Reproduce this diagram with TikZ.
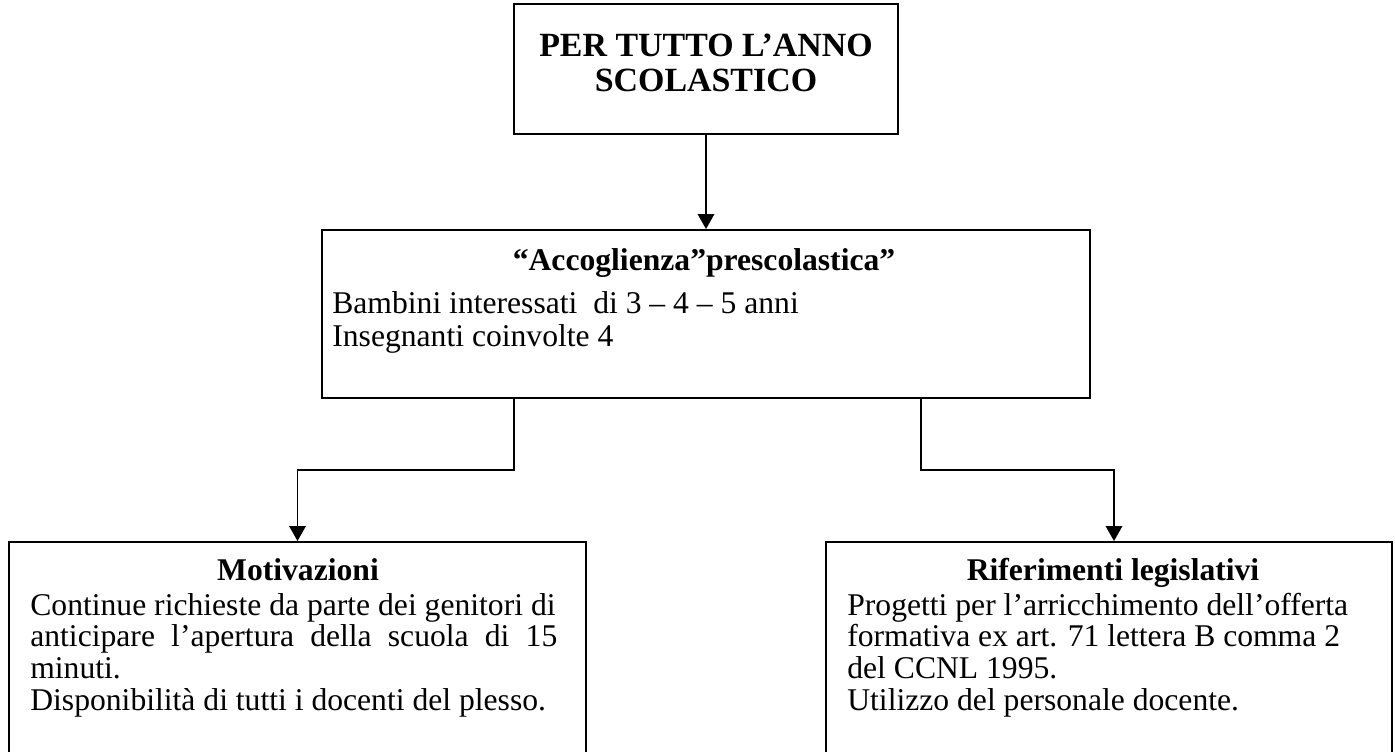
\documentclass[tikz,border=0pt]{standalone}
\usepackage{fontspec}
\setmainfont{Liberation Serif}
\usetikzlibrary{arrows.meta,fit}

\tikzset{
  box/.style={draw, line width=1.1pt, inner sep=0pt},
  arr/.style={line width=1pt, -{Triangle[width=3.3mm,length=3mm]}},
  txt/.style={inner sep=0pt, font=\fontsize{18}{18}\selectfont},
  hd/.style={inner sep=0pt, font=\fontsize{18}{18}\selectfont\bfseries},
}

\begin{document}
\begin{tikzpicture}[x=0.02cm, y=-0.02cm]
  \useasboundingbox (0,0) rectangle (1395,751);
  % boxes
  \node[box, fit={(514,4) (898,134)}] (top) {};
  \node[box, fit={(322,230) (1090,398)}] (mid) {};
  \node[box, fit={(9,542) (586,790)}] (left) {};
  \node[box, fit={(826,542) (1392,790)}] (right) {};
  % top box
  \foreach \ln [count=\i] in {PER TUTTO L’ANNO, SCOLASTICO}
    \node[hd, anchor=base, font=\fontsize{19.3}{20}\selectfont\bfseries] (tt\i) at (706, {56+35*(\i-1)}) {\ln};
  % middle box
  \node[hd, anchor=base] (midtitle) at (704,270) {“Accoglienza”prescolastica”};
  \foreach \ln [count=\i] in {Bambini interessati\ \ di 3 – 4 – 5 anni, Insegnanti coinvolte 4}
    \node[txt, anchor=base west] (mb\i) at (332, {313+33*(\i-1)}) {\ln};
  % bottom boxes
  \node[hd, anchor=base] (lefttitle) at (298,580) {Motivazioni};
  \foreach \ln [count=\i] in {Continue richieste da parte dei genitori di,
      {\makebox[10.54cm][s]{anticipare l’apertura della scuola di 15}},
      minuti., Disponibilità di tutti i docenti del plesso.}
    \node[txt, anchor=base west] (lb\i) at (30, {615+31.7*(\i-1)}) {\ln};
  \node[hd, anchor=base] (righttitle) at (1113,580) {Riferimenti legislativi};
  \foreach \ln [count=\i] in {Progetti per l’arricchimento dell’offerta,
      formativa ex art. 71 lettera B comma 2, del CCNL 1995.,
      Utilizzo del personale docente.}
    \node[txt, anchor=base west] (rb\i) at (847, {615+31.7*(\i-1)}) {\ln};
  % connectors
  \coordinate (jl) at (514,470);
  \coordinate (jr) at (921,470);
  \draw[arr] (top.south) -- (mid.north);
  \draw[arr] (mid.south -| jl) -- (jl) -| (left.north);
  \draw[arr] (mid.south -| jr) -- (jr) -| ([xshift=0.1cm]right.north);
\end{tikzpicture}
\end{document}
